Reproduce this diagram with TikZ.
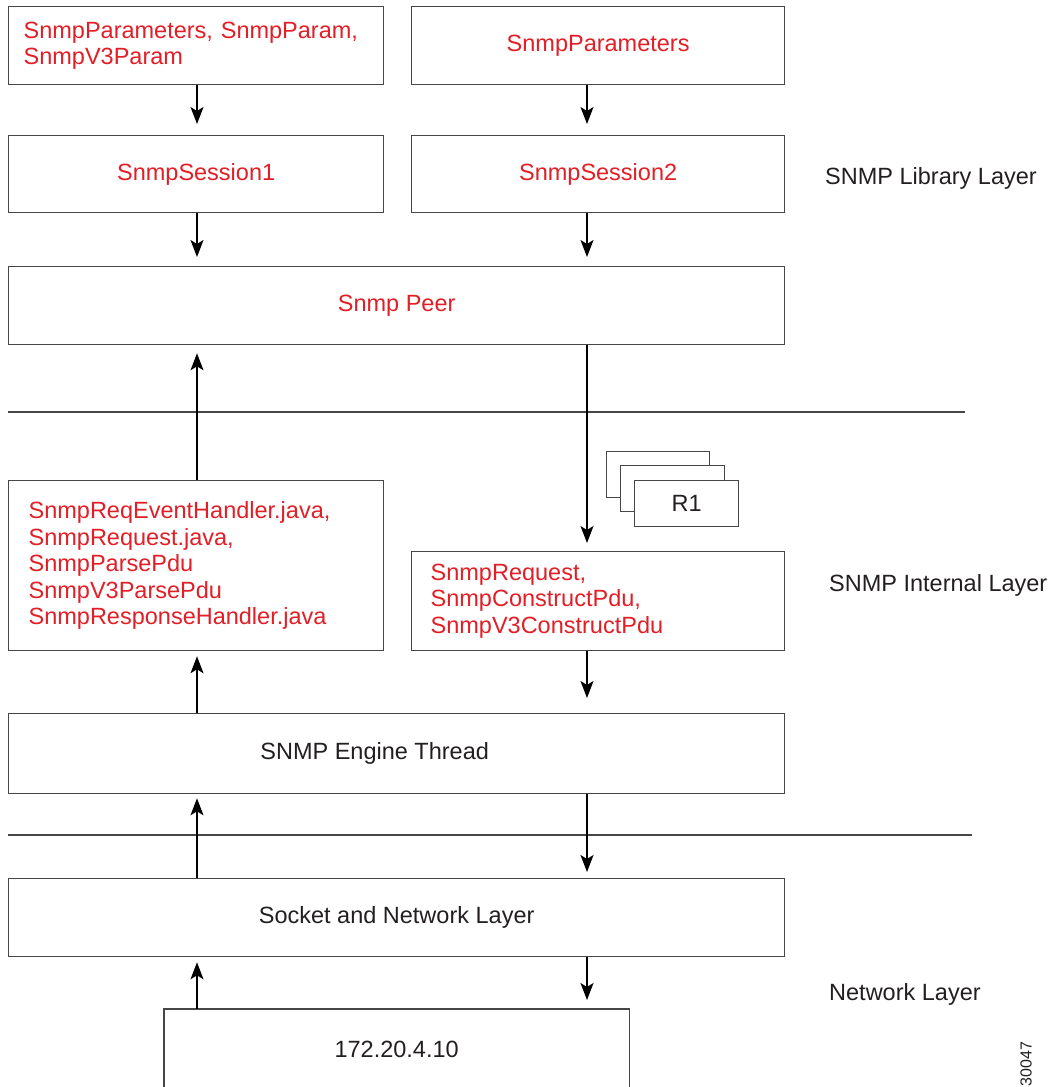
\documentclass[tikz,border=0pt]{standalone}
\usepackage{fontspec}
\setmainfont{Liberation Sans}
\usetikzlibrary{arrows.meta,calc}
\definecolor{cred}{RGB}{226,30,38}
\definecolor{txt}{RGB}{35,31,32}
\definecolor{lin}{RGB}{70,70,70}
\begin{document}
\begin{tikzpicture}[x=1pt,y=-1pt,
  boxnode/.style={draw=lin,line width=1.3pt,inner sep=0pt,anchor=north west,font=\fontsize{23.5}{26.4}\selectfont},
  redtxt/.style={text=cred},
  blktxt/.style={text=txt},
  arr/.style={draw=black,line width=1.3pt,-{Stealth[length=17pt,width=13pt,inset=4pt]}},
  layerline/.style={draw=lin,line width=1.8pt},
  layerlbl/.style={text=txt,font=\fontsize{23.5}{26.4}\selectfont,anchor=base west,inner sep=0pt}]
\useasboundingbox (0,0) rectangle (1061,1087);
\fill[white] (0,0) rectangle (1061,1087);
\coordinate (colL) at (197,0);
\coordinate (colR) at (587,0);
% top row
\node[boxnode,redtxt,minimum width=375pt,minimum height=78pt,text width=345pt,align=left] (p1) at (8,6) {SnmpParameters, SnmpParam,\\SnmpV3Param};
\node[boxnode,redtxt,minimum width=373pt,minimum height=78pt] (p2) at (411,6) {SnmpParameters};
\node[boxnode,redtxt,minimum width=375pt,minimum height=77pt] (s1) at (8,135) {SnmpSession1};
\node[boxnode,redtxt,minimum width=373pt,minimum height=77pt] (s2) at (411,135) {SnmpSession2};
\node[boxnode,redtxt,minimum width=776pt,minimum height=78pt] (peer) at (8,266) {Snmp Peer};
% internal layer
\node[boxnode,redtxt,minimum width=375pt,minimum height=170pt,text width=335pt,align=left] (lreq) at (8,480) {SnmpReqEventHandler.java,\\SnmpRequest.java,\\SnmpParsePdu\\SnmpV3ParsePdu\\SnmpResponseHandler.java};
\node[boxnode,redtxt,minimum width=373pt,minimum height=99pt,text width=335pt,align=left] (rreq) at (411,551) {SnmpRequest,\\SnmpConstructPdu,\\SnmpV3ConstructPdu};
% R1 stack
\node[boxnode,fill=white,line width=1.1pt,minimum width=103pt,minimum height=46pt] (ra) at (606,451) {};
\node[boxnode,fill=white,line width=1.1pt,minimum width=104pt,minimum height=46pt] (rb) at (620,465) {};
\node[boxnode,fill=white,line width=1.1pt,blktxt,minimum width=104pt,minimum height=46pt] (rc) at (634,480) {R1};
% engine, socket
\node[boxnode,minimum width=776pt,minimum height=80pt,label={[text=txt,xshift=-22pt,font=\fontsize{23.5}{26.4}\selectfont]center:SNMP Engine Thread}] (eng) at (8,713) {};
\node[boxnode,blktxt,minimum width=776pt,minimum height=78pt] (sock) at (8,878) {Socket and Network Layer};
\node[boxnode,draw=none,blktxt,minimum width=464pt,minimum height=80pt,anchor=north west] (ip) at (164,1009) {172.20.4.10};
\draw[draw=lin,line width=1.3pt] ([yshift=3pt]ip.south west) -- (ip.north west) -- (ip.north east) -- ([yshift=3pt]ip.south east);
% layer lines
\coordinate (h1a) at (8,412); \coordinate (h1b) at (965,412);
\coordinate (h2a) at (8,835); \coordinate (h2b) at (972,835);
\draw[layerline] (h1a) -- (h1b);
\draw[layerline] (h2a) -- (h2b);
% arrows
\draw[arr,shorten >=11pt] (p1.south -| colL) -- (s1.north -| colL);
\draw[arr,shorten >=11pt] (p2.south -| colR) -- (s2.north -| colR);
\draw[arr,shorten >=9pt] (s1.south -| colL) -- (peer.north -| colL);
\draw[arr,shorten >=9pt] (s2.south -| colR) -- (peer.north -| colR);
\draw[arr,shorten >=8pt] (lreq.north -| colL) -- (peer.south -| colL);
\draw[arr,shorten >=8pt] (peer.south -| colR) -- (rreq.north -| colR);
\draw[arr,shorten >=5pt] (eng.north -| colL) -- (lreq.south -| colL);
\draw[arr,shorten >=15pt] (rreq.south -| colR) -- (eng.north -| colR);
\draw[arr,shorten >=4pt] (sock.north -| colL) -- (eng.south -| colL);
\draw[arr,shorten >=6pt] (eng.south -| colR) -- (sock.north -| colR);
\draw[arr,shorten >=5pt] (ip.north -| colL) -- (sock.south -| colL);
\draw[arr,shorten >=9pt] (sock.south -| colR) -- (ip.north -| colR);
% layer labels
\node[layerlbl] (lib) at (825,184) {SNMP Library Layer};
\node[layerlbl] (int) at (829,591) {SNMP Internal Layer};
\node[layerlbl] (net) at (829,1000) {Network Layer};
\node[text=txt,font=\fontsize{16}{18}\selectfont,rotate=90,inner sep=0pt] (fig) at (1026,1064) {30047};
\end{tikzpicture}
\end{document}
